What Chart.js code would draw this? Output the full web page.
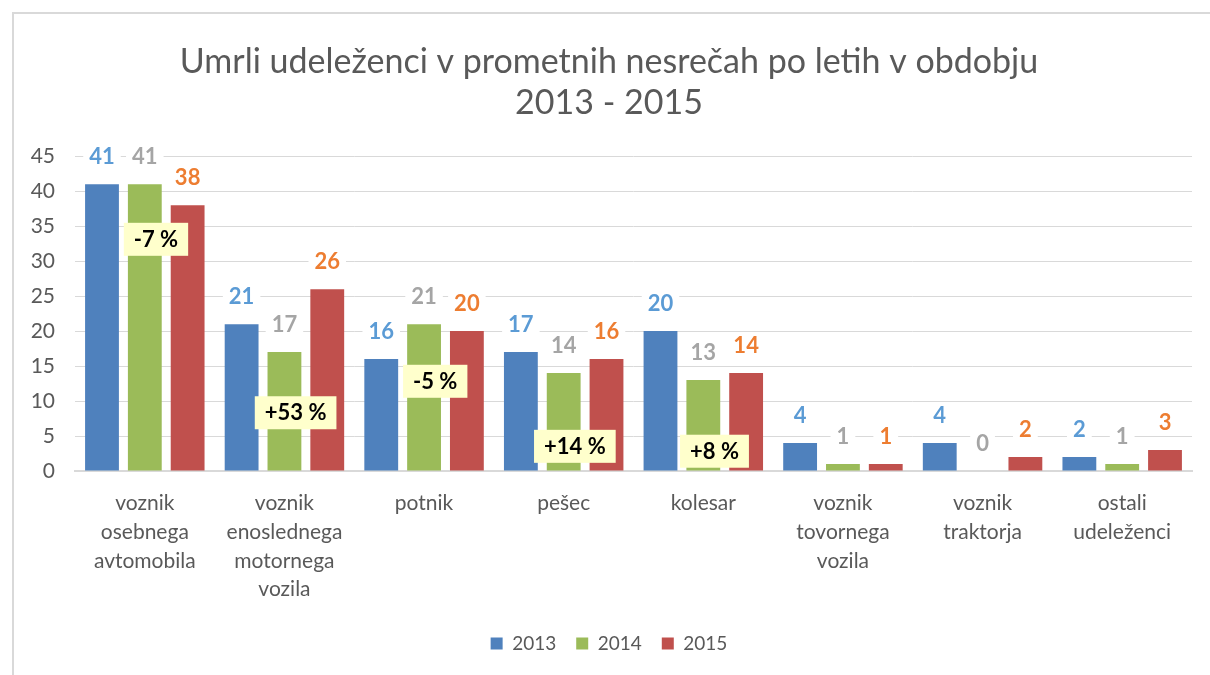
<!DOCTYPE html>
<html>
<head>
<meta charset="utf-8">
<script src="https://cdn.jsdelivr.net/npm/chart.js@4"></script>
<style>
    html, body { margin: 0; padding: 0; background: #fff; }
    #frame {
        position: absolute; left: 12px; top: 12px;
        width: 1220px; height: 700px;
        border: 2px solid #d9d9d9; box-sizing: border-box;
    }
    #wrap { position: absolute; left: 0; top: 0; width: 1210px; height: 675px; }
</style>
</head>
<body>
<div id="frame"></div>
<div id="wrap"><canvas id="chart"></canvas></div>
<script>
/* =========================
   DATA
========================= */
const categories = [
    ["voznik", "osebnega", "avtomobila"],
    ["voznik", "enoslednega", "motornega", "vozila"],
    ["potnik"],
    ["pešec"],
    ["kolesar"],
    ["voznik", "tovornega", "vozila"],
    ["voznik", "traktorja"],
    ["ostali", "udeleženci"]
];
const years = ["2013", "2014", "2015"];
const values2013 = [41, 21, 16, 17, 20, 4, 4, 2];
const values2014 = [41, 17, 21, 14, 13, 1, 0, 1];
const values2015 = [38, 26, 20, 16, 14, 1, 2, 3];
const yTicks = [0, 5, 10, 15, 20, 25, 30, 35, 40, 45];

// change 2014 -> 2015 callouts (category index, value level where box sits)
const changeLabels = ["-7 %", "+53 %", "-5 %", "+14 %", "+8 %"];
const changeCategory = [0, 1, 2, 3, 4];
const changeLevel = [33.2, 8.4, 12.9, 3.6, 2.9];

const FONT = "Lato, 'Noto Sans', sans-serif";
const TEXT = "#595959";

/* =========================
   PLUGINS
========================= */
const valueLabels = {
    id: "valueLabels",
    afterDatasetsDraw(chart) {
        const ctx = chart.ctx;
        ctx.save();
        ctx.font = "bold 22px " + FONT;
        ctx.textAlign = "center";
        ctx.textBaseline = "middle";
        chart.data.datasets.forEach((ds, di) => {
            chart.getDatasetMeta(di).data.forEach((bar, i) => {
                const txt = String(ds.data[i]);
                const y = bar.y - 27;
                const w = ctx.measureText(txt).width + 12;
                ctx.fillStyle = "#fff";
                ctx.fillRect(bar.x - w / 2, y - 12, w, 24);
                ctx.fillStyle = ds.labelColor;
                ctx.fillText(txt, bar.x, y);
            });
        });
        ctx.restore();
    }
};

const changeBoxes = {
    id: "changeBoxes",
    afterDraw(chart) {
        const ctx = chart.ctx;
        const xs = chart.scales.x, ys = chart.scales.y;
        const step = xs.getPixelForValue(1) - xs.getPixelForValue(0);
        ctx.save();
        ctx.font = "bold 22px " + FONT;
        ctx.textAlign = "center";
        ctx.textBaseline = "middle";
        changeLabels.forEach((txt, i) => {
            const x = xs.getPixelForValue(changeCategory[i]) + step * 0.08;
            const y = ys.getPixelForValue(changeLevel[i]);
            const w = ctx.measureText(txt).width + 20;
            ctx.fillStyle = "#ffffcc";
            ctx.fillRect(x - w / 2, y - 16, w, 33);
            ctx.fillStyle = "#000";
            ctx.fillText(txt, x, y + 1);
        });
        ctx.restore();
    }
};

/* =========================
   CHART
========================= */
new Chart(document.getElementById("chart"), {
    type: "bar",
    data: {
        labels: categories,
        datasets: [
            { label: years[0], data: values2013, backgroundColor: "#4f81bd", labelColor: "#5b9bd5" },
            { label: years[1], data: values2014, backgroundColor: "#9bbb59", labelColor: "#a5a5a5" },
            { label: years[2], data: values2015, backgroundColor: "#c0504d", labelColor: "#ed7d31" }
        ]
    },
    options: {
        responsive: true,
        maintainAspectRatio: false,
        animation: false,
        layout: { padding: { left: 26, right: 18, top: 0, bottom: 12 } },
        datasets: { bar: { categoryPercentage: 0.92, barPercentage: 0.79 } },
        scales: {
            x: {
                grid: { display: false, drawTicks: false },
                border: { color: "#d9d9d9", width: 2 },
                afterFit: (axis) => { axis.height = 143; },
                ticks: {
                    color: TEXT, padding: 18, maxRotation: 0, autoSkip: false,
                    font: { family: FONT, size: 21, lineHeight: 1.37 }
                }
            },
            y: {
                min: 0, max: 45,
                afterBuildTicks: (axis) => { axis.ticks = yTicks.map(v => ({ value: v })); },
                afterFit: (axis) => { axis.width = 49; },
                grid: { color: "#d9d9d9", drawTicks: false },
                border: { display: false },
                ticks: {
                    color: TEXT, padding: 20,
                    font: { family: FONT, size: 21 }
                }
            }
        },
        plugins: {
            title: {
                display: true,
                text: ["Umrli udeleženci v prometnih nesrečah po letih v obdobju", "2013 - 2015"],
                color: TEXT,
                font: { family: FONT, size: 34, weight: "normal", lineHeight: 1.21 },
                padding: { top: 41, bottom: 33 }
            },
            legend: {
                position: "bottom",
                labels: {
                    color: TEXT, boxWidth: 12, boxHeight: 12, padding: 20,
                    font: { family: FONT, size: 19 }
                }
            },
            tooltip: { enabled: false }
        }
    },
    plugins: [valueLabels, changeBoxes]
});
</script>
</body>
</html>
